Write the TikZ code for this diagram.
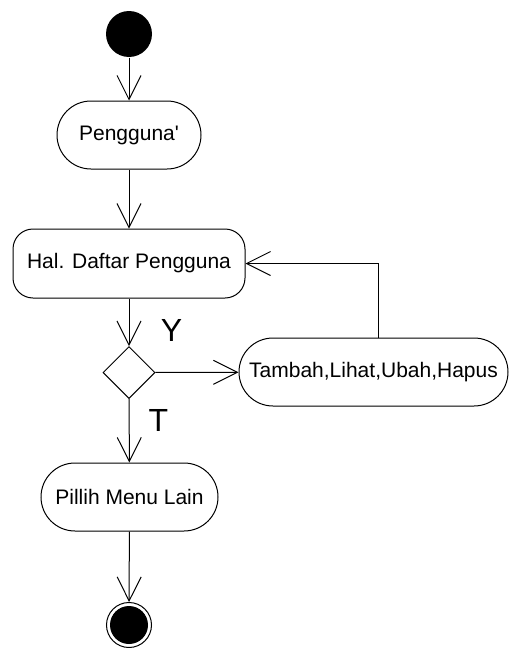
\documentclass[tikz,border=0pt]{standalone}
\usepackage{fontspec}
\setmainfont{Liberation Sans}
\usetikzlibrary{shapes.geometric,arrows.meta}
\begin{document}
\begin{tikzpicture}[x=1pt,y=-1pt,
  line width=1pt,
  act/.style={draw,fill=white,minimum height=68pt,inner sep=0pt,font=\fontsize{21}{25}\selectfont},
  arr/.style={-{Straight Barb[length=24pt,width=24pt,line width=1pt]}},
  lbl/.style={inner sep=0pt,font=\fontsize{32}{36}\selectfont}]
\useasboundingbox (0,0) rectangle (509,648);
\node[circle,fill=black,minimum size=46pt,inner sep=0pt] (start) at (129,34) {};
\node[act,minimum width=144pt,rounded corners=34pt] (peng) at (129,135) {Pengguna\textquotesingle};
\node[act,minimum width=232pt,minimum height=69pt,rounded corners=20pt] (hal) at (129,263.5) {Hal. Daftar Pengguna};
\node[diamond,draw,minimum width=52pt,minimum height=52pt,inner sep=0pt] (dec) at (129,372.5) {};
\node[act,minimum width=269pt,rounded corners=34pt] (tam) at (373.5,372) {Tambah,Lihat,Ubah,Hapus};
\node[act,minimum width=177pt,rounded corners=34pt] (pil) at (129.5,497) {Pillih Menu Lain};
\node[circle,draw,minimum size=45pt,inner sep=0pt] (end) at (129,625) {};
\node[circle,fill=black,minimum size=38pt,inner sep=0pt] (endin) at (129,625) {};
\node[lbl] (y) at (171.5,330) {Y};
\node[lbl] (t) at (158.5,420.5) {T};
\coordinate (loop) at (378,338);
\draw[arr] (start) -- (peng);
\draw[arr] (peng) -- (hal);
\draw[arr] (hal) -- (dec);
\draw[arr] (dec) -- (tam);
\draw[arr] (dec) -- (pil);
\draw[arr] (pil) -- (end);
\draw[arr] (loop) |- (hal.east);
\end{tikzpicture}
\end{document}
